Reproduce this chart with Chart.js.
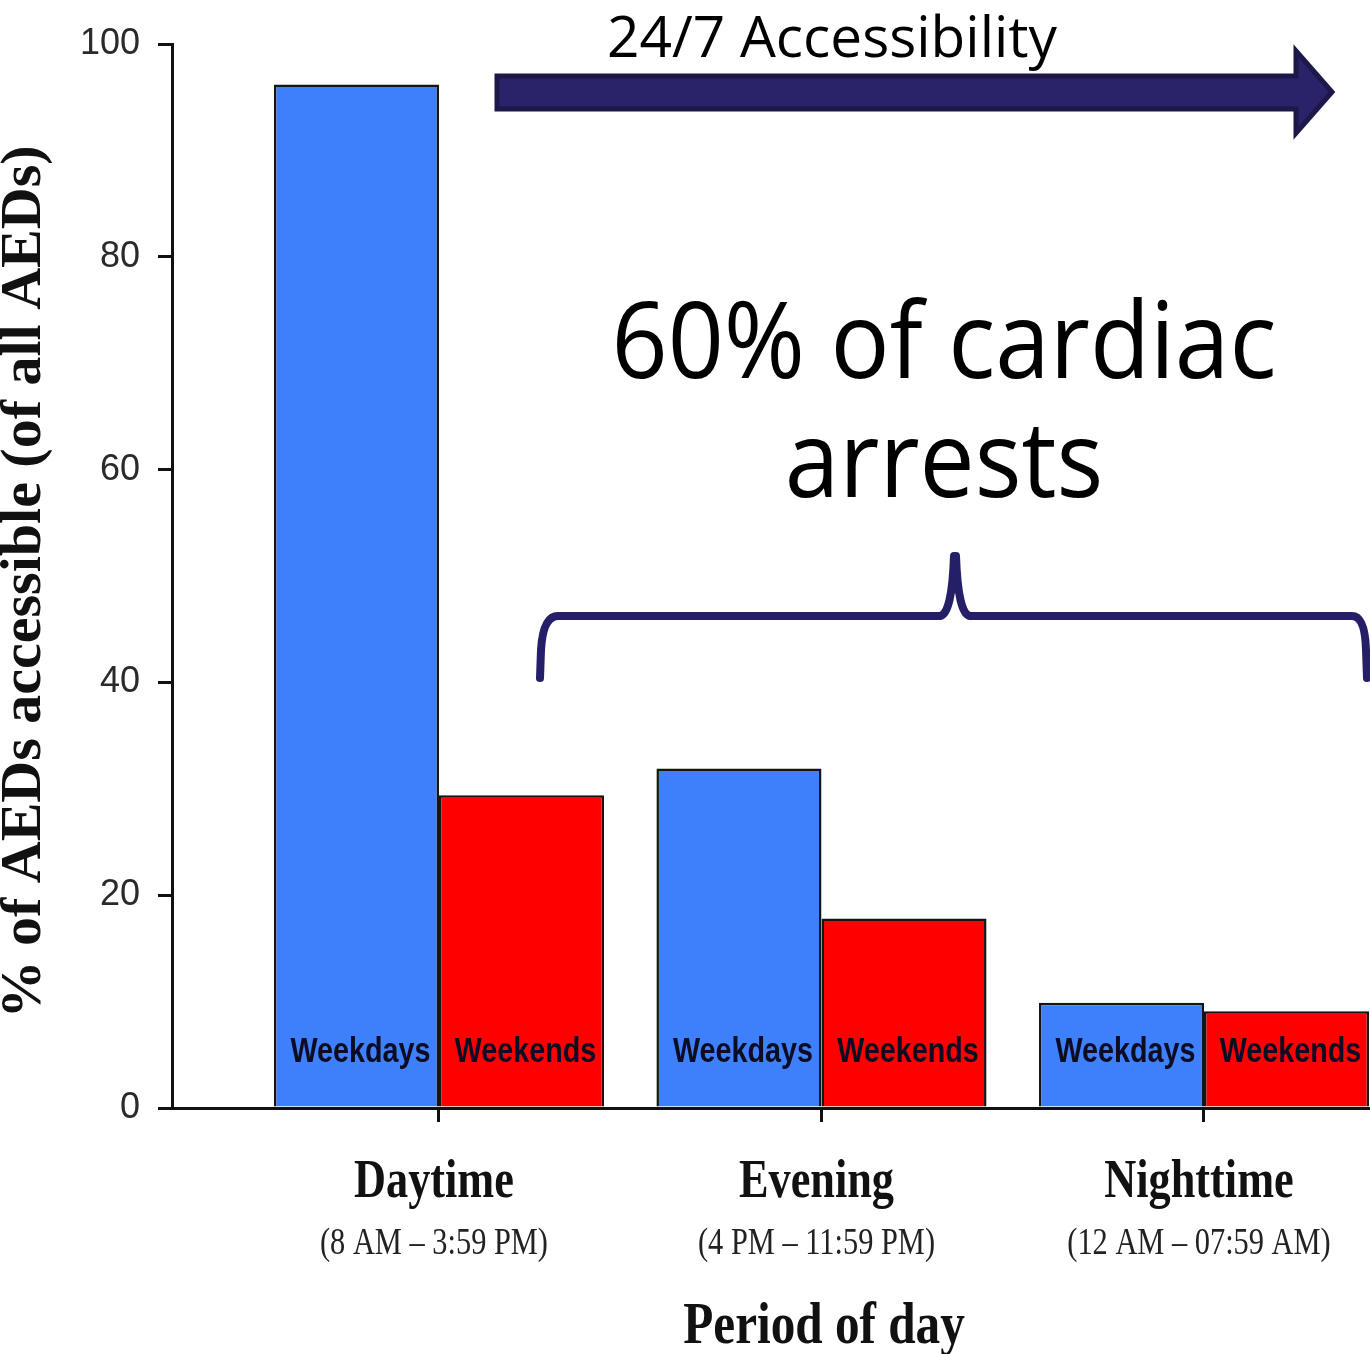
<!DOCTYPE html>
<html>
<head>
<meta charset="utf-8">
<script src="https://cdn.jsdelivr.net/npm/chart.js@4.4.1/dist/chart.umd.min.js"></script>
<style>
  html, body { margin: 0; padding: 0; background: #fff; overflow: hidden; }
  canvas { display: block; }
</style>
</head>
<body>
<canvas id="aedChart" width="1370" height="1354"></canvas>
<script>
// values (% of all AEDs accessible)
const periods = ['Daytime', 'Evening', 'Nighttime'];
const hours = ['(8 AM \u2013 3:59 PM)', '(4 PM \u2013 11:59 PM)', '(12 AM \u2013 07:59 AM)'];
const weekdays = [96.2, 31.9, 9.9];
const weekends = [29.4, 17.8, 9.1];
const yTicks = [0, 20, 40, 60, 80, 100];

const SERIF = '"Liberation Serif", "Times New Roman", serif';
const SANS = '"Liberation Sans", Arial, sans-serif';

// the source figure is stretched vertically, so text gets squeezed horizontally
function squeezedText(ctx, text, x, baseline, font, sx, color) {
    ctx.save();
    ctx.font = font;
    ctx.fillStyle = color;
    ctx.textAlign = 'center';
    ctx.textBaseline = 'alphabetic';
    ctx.translate(x, baseline);
    ctx.scale(sx, 1);
    ctx.fillText(text, 0, 0);
    ctx.restore();
}

const overlay = {
    id: 'overlay',
    afterDatasetsDraw(chart) {
        const ctx = chart.ctx;
        // bar labels inside the bars, near the base
        const base = chart.scales.y.getPixelForValue(0);
        chart.data.datasets.forEach((ds, d) => {
            chart.getDatasetMeta(d).data.forEach(bar => {
                squeezedText(ctx, ds.label, bar.x + 4, base - 46, 'bold 35px ' + SANS, 0.82, '#0c0c22');
            });
        });
    },
    afterDraw(chart) {
        const ctx = chart.ctx;
        const xs = chart.scales.x;

        // y axis title
        ctx.save();
        ctx.translate(40, 582);
        ctx.rotate(-Math.PI / 2);
        ctx.font = 'bold 58px ' + SERIF;
        ctx.fillStyle = '#111';
        ctx.textAlign = 'center';
        ctx.textBaseline = 'alphabetic';
        ctx.fillText('% of AEDs accessible (of all AEDs)', 0, 0);
        ctx.restore();

        // category labels under the axis
        periods.forEach((p, i) => {
            const cx = xs.getPixelForValue(i) - 5;
            squeezedText(ctx, p, cx, 1197, 'bold 54px ' + SERIF, 0.82, '#111');
            squeezedText(ctx, hours[i], cx, 1254, '38px ' + SERIF, 0.8, '#222');
        });
        squeezedText(ctx, 'Period of day', 824, 1343, 'bold 60px ' + SERIF, 0.82, '#111');

        // 24/7 arrow
        ctx.save();
        ctx.beginPath();
        ctx.moveTo(497, 76);
        ctx.lineTo(1296, 76);
        ctx.lineTo(1296, 51);
        ctx.lineTo(1332, 92);
        ctx.lineTo(1296, 133);
        ctx.lineTo(1296, 109);
        ctx.lineTo(497, 109);
        ctx.closePath();
        ctx.fillStyle = '#2b236a';
        ctx.fill();
        ctx.lineWidth = 5;
        ctx.strokeStyle = '#1c1849';
        ctx.lineJoin = 'miter';
        ctx.stroke();
        ctx.restore();

        ctx.save();
        ctx.font = '56px "Open Sans", sans-serif';
        const w = ctx.measureText('24/7 Accessibility').width;
        ctx.restore();
        squeezedText(ctx, '24/7 Accessibility', 832, 57, '56px "Open Sans", sans-serif', 450 / w, '#000');

        // big annotation
        ctx.save();
        ctx.font = '106px "Open Sans", sans-serif';
        const w2 = ctx.measureText('60% of cardiac').width;
        ctx.restore();
        const s2 = 665 / w2;
        squeezedText(ctx, '60% of cardiac', 944, 378, '106px "Open Sans", sans-serif', s2, '#000');
        squeezedText(ctx, 'arrests', 944, 497, '106px "Open Sans", sans-serif', s2, '#000');

        // curly brace over evening + nighttime
        ctx.save();
        ctx.strokeStyle = '#251f68';
        ctx.lineWidth = 8;
        ctx.lineCap = 'round';
        ctx.lineJoin = 'round';
        ctx.beginPath();
        ctx.moveTo(540, 678);
        ctx.lineTo(541, 650);
        ctx.quadraticCurveTo(543, 616, 558, 616);
        ctx.lineTo(940, 616);
        ctx.quadraticCurveTo(952, 614, 954, 556);
        ctx.moveTo(956, 556);
        ctx.quadraticCurveTo(958, 614, 970, 616);
        ctx.lineTo(1352, 616);
        ctx.quadraticCurveTo(1365, 616, 1366, 650);
        ctx.lineTo(1367, 678);
        ctx.stroke();
        ctx.restore();
    }
};

new Chart(document.getElementById('aedChart'), {
    type: 'bar',
    data: {
        datasets: [{
            label: 'Weekdays',
            data: weekdays.map((v, i) => ({ x: i, y: v })),
            backgroundColor: '#3e7ffb',
            borderColor: '#151515',
            borderWidth: 2.5
        }, {
            label: 'Weekends',
            data: weekends.map((v, i) => ({ x: i, y: v })),
            backgroundColor: '#ff0000',
            borderColor: '#151515',
            borderWidth: 2.5
        }]
    },
    options: {
        responsive: false,
        animation: false,
        categoryPercentage: 0.863,
        barPercentage: 1,
        layout: { padding: { top: 44, right: 0, left: 0, bottom: 0 } },
        scales: {
            x: {
                type: 'linear',
                min: -0.698,
                max: 2.434,
                offset: false,
                afterBuildTicks: scale => { scale.ticks = periods.map((p, i) => ({ value: i })); },
                afterFit: scale => { scale.height = 246; },
                ticks: { display: false },
                grid: { offset: false, drawOnChartArea: false, tickLength: 14, color: '#111', lineWidth: 3 },
                border: { color: '#111', width: 3 }
            },
            y: {
                min: 0,
                max: 100,
                afterBuildTicks: scale => { scale.ticks = yTicks.map(v => ({ value: v })); },
                afterFit: scale => { scale.width = 172; },
                ticks: {
                    padding: 18,
                    color: '#2a2a2a',
                    font: { family: SANS, size: 36 }
                },
                grid: { drawOnChartArea: false, tickLength: 14, color: '#111', lineWidth: 3 },
                border: { color: '#111', width: 3 }
            }
        },
        plugins: {
            legend: { display: false },
            tooltip: { enabled: false }
        }
    },
    plugins: [overlay]
});
</script>
</body>
</html>
